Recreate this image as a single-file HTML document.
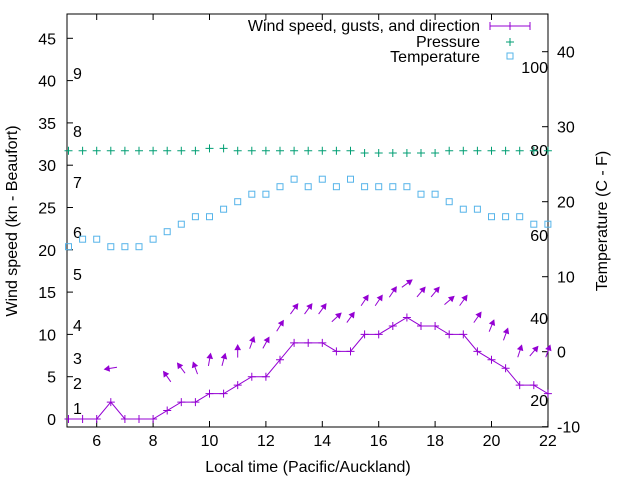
<!DOCTYPE html>
<html><head><meta charset="utf-8"><style>
body{margin:0;background:#fff}
svg{display:block;font-family:"Liberation Sans",sans-serif}
</style></head><body>
<svg id="c" width="640" height="480" xmlns="http://www.w3.org/2000/svg">
<rect x="0" y="0" width="640" height="480" fill="#fff"/>
<g id="axes"></g>
<g id="marks"></g>
<text x="308" y="472" font-size="16" text-anchor="middle">Local time (Pacific/Auckland)</text>
<text transform="translate(17,221) rotate(-90)" font-size="16" text-anchor="middle">Wind speed (kn - Beaufort)</text>
<text transform="translate(607,221) rotate(-90)" font-size="16" text-anchor="middle">Temperature (C - F)</text>
<g font-size="16">
<text x="480" y="31" text-anchor="end">Wind speed, gusts, and direction</text>
<g stroke="#9400d3" stroke-width="1"><line x1="490" y1="26" x2="530" y2="26"/><line x1="490" y1="22" x2="490" y2="30"/><line x1="530" y1="22" x2="530" y2="30"/><line x1="510" y1="22" x2="510" y2="30"/></g>
<text x="480" y="47" text-anchor="end">Pressure</text>
<g stroke="#009e73"><line x1="506" y1="42" x2="514" y2="42"/><line x1="510" y1="38" x2="510" y2="46"/></g>
<text x="480" y="62" text-anchor="end">Temperature</text>
<rect x="507" y="53" width="6" height="6" fill="none" stroke="#56b4e9"/>
</g>
</svg>
<script>
const times=[5,5.5,6,6.5,7,7.5,8,8.5,9,9.5,10,10.5,11,11.5,12,12.5,13,13.5,14,14.5,15,15.5,16,16.5,17,17.5,18,18.5,19,19.5,20,20.5,21,21.5,22];
const wind=[0,0,0,2,0,0,0,1,2,2,3,3,4,5,5,7,9,9,9,8,8,10,10,11,12,11,11,10,10,8,7,6,4,4,3];
const gustTimes=[6.5,8.5,9,9.5,10,10.5,11,11.5,12,12.5,13,13.5,14,14.5,15,15.5,16,16.5,17,17.5,18,18.5,19,19.5,20,20.5,21,21.5,22];
const gusts=[6,5,6,6,7,7,8,9,9,11,13,13,13,12,12,14,14,15,16,15,15,14,14,12,11,10,8,8,8];
const dirs=[261,325,323,340,10,15,0,20,29,32,36,36,36,47,36,34,34,34,54,40,40,49,36,35,22,20,18,40,20];
const pressure=[1015,1015,1015,1015,1015,1015,1015,1015,1015,1015,1016,1016,1015,1015,1015,1015,1015,1015,1015,1015,1015,1014,1014,1014,1014,1014,1014,1015,1015,1015,1015,1015,1015,1015,1015];
const temps=[14,15,15,14,14,14,15,16,17,18,18,19,20,21,21,22,23,22,23,22,23,22,22,22,22,21,21,20,19,19,18,18,18,17,17];
const xTicks=[6,8,10,12,14,16,18,20,22];
const yTicks=[0,5,10,15,20,25,30,35,40,45];
const y2Ticks=[-10,0,10,20,30,40];
const beaufort=[[1,408],[2,383],[3,358],[4,325],[5,274],[6,232],[7,182],[8,131],[9,73]];
const fahr=[[100,67],[80,150],[60,235],[40,318],[20,400]];
const L=67,R=548,T=14,B=427;
const X=t=>68.5+(t-5)*28.2;
const Y=v=>419-v*8.46;
const Y2=c=>351.7-c*7.5;
const YP=p=>150.7-(p-1015)*2.3;
const NS='http://www.w3.org/2000/svg';
const ax=document.getElementById('axes'),mk=document.getElementById('marks');
function el(tag,attrs,parent){const e=document.createElementNS(NS,tag);for(const k in attrs)e.setAttribute(k,attrs[k]);parent.appendChild(e);return e;}
let frame=el('rect',{x:L,y:T,width:R-L,height:B-T,fill:'none',stroke:'#000'},ax);


xTicks.forEach(t=>{
 const g=el('g',{},ax);
 
 
 el('line',{x1:X(t),x2:X(t),y1:B,y2:B-6,stroke:'#000'},g);
 el('line',{x1:X(t),x2:X(t),y1:T,y2:T+6,stroke:'#000'},g);
 const tx=el('text',{x:X(t),y:B+19,'font-size':16,'text-anchor':'middle'},g);tx.textContent=t;
});
yTicks.forEach(v=>{
 const g=el('g',{},ax);
 
 
 el('line',{x1:L,x2:L+6,y1:Y(v),y2:Y(v),stroke:'#000'},g);
 const tx=el('text',{x:56,y:Y(v)+6,'font-size':16,'text-anchor':'end'},g);tx.textContent=v;
});
y2Ticks.forEach(v=>{
 const g=el('g',{},ax);
 
 
 el('line',{x1:R,x2:R-6,y1:Y2(v),y2:Y2(v),stroke:'#000'},g);
 const tx=el('text',{x:557,y:Y2(v)+6,'font-size':16},g);tx.textContent=v;
});
beaufort.forEach(([n,y])=>{
 const tx=el('text',{x:73,y:y+6,'font-size':16},ax);
 
 
 tx.textContent=n;
});
fahr.forEach(([n,y])=>{
 const tx=el('text',{x:548,y:y+6,'font-size':16,'text-anchor':'end'},ax);
 
 
 tx.textContent=n;
});
const pl=el('polyline',{points:times.map((t,i)=>X(t)+','+Y(wind[i])).join(' '),fill:'none',stroke:'#9400d3'},mk);


times.forEach((t,i)=>{
 const p=el('path',{d:`M${X(t)-4},${Y(wind[i])}h8M${X(t)},${Y(wind[i])-4}v8`,stroke:'#9400d3'},mk);
 
 
});
gustTimes.forEach((t,i)=>{
 const a=dirs[i]*Math.PI/180,len=12.5,dx=Math.sin(a)*len/2,dy=-Math.cos(a)*len/2;
 const cx=X(t),cy=Y(gusts[i]);
 const x1=cx-dx,y1=cy-dy,x2=cx+dx,y2=cy+dy;
 const ux=dx*2/len,uy=dy*2/len,h=4.5,w=2.5;
 const g=el('g',{stroke:'#9400d3',fill:'#9400d3'},mk);
 
 
 el('line',{x1,y1,x2,y2},g);
 el('polygon',{points:`${x2},${y2} ${x2-ux*h-uy*w},${y2-uy*h+ux*w} ${x2-ux*h+uy*w},${y2-uy*h-ux*w}`},g);
});
times.forEach((t,i)=>{
 const x=X(t),y=YP(pressure[i]);
 const p=el('path',{d:`M${x-4},${y}h8M${x},${y-4}v8`,stroke:'#009e73'},mk);
 
 
});
times.forEach((t,i)=>{
 const r=el('rect',{x:X(t)-3,y:Y2(temps[i])-3,width:6,height:6,fill:'none',stroke:'#56b4e9'},mk);
 
 
});
</script>
</body></html>
